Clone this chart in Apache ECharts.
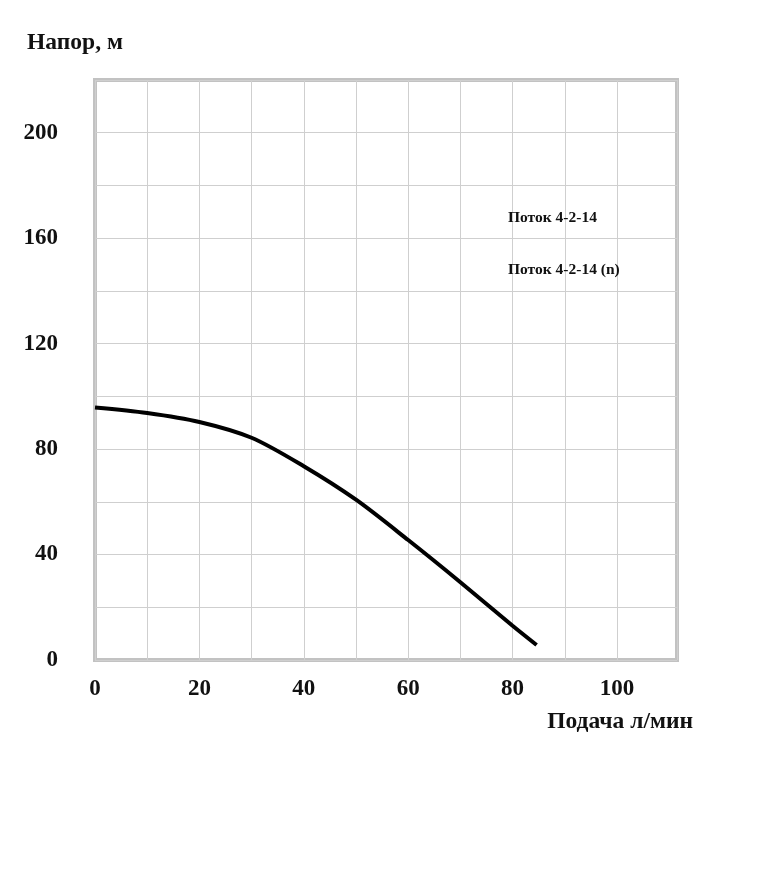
<!DOCTYPE html>
<html>
<head>
<meta charset="utf-8">
<script src="https://cdn.jsdelivr.net/npm/echarts@6/dist/echarts.min.js"></script>
<style>
html,body{margin:0;padding:0;background:#fff;}
#chart{width:767px;height:872px;}
</style>
</head>
<body>
<div id="chart"></div>
<script>
// Data
const flow = [0, 10, 20, 30, 40, 50, 60, 70, 80, 84.6];               // Подача, л/мин
const head = [95.8, 93.7, 90.3, 84.3, 73.5, 60.8, 45.5, 29.5, 13.0, 5.7]; // Напор, м
const seriesNames = ['Поток 4-2-14', 'Поток 4-2-14 (n)'];
const xTickLabels = [0, 20, 40, 60, 80, 100];
const yTickLabels = [0, 40, 80, 120, 160, 200];
const xName = 'Подача л/мин';
const yName = 'Напор, м';

const font = "'Liberation Serif','Times New Roman',serif";
const xSplitColors = [];
for (let i = 0; i < 13; i++) xSplitColors.push(i === 11 ? 'rgba(0,0,0,0)' : '#cfcfcf');

const chart = echarts.init(document.getElementById('chart'), null, {renderer: 'canvas'});
chart.setOption({
  backgroundColor: '#ffffff',
  animation: false,
  grid: {
    left: 95, right: 90, top: 80, bottom: 212,
    show: true, borderColor: '#c2c2c2', borderWidth: 4, backgroundColor: 'transparent'
  },
  legend: {
    orient: 'vertical', left: 498, top: 205, itemGap: 36,
    itemWidth: 0, itemHeight: 14,
    icon: 'none',
    data: seriesNames.map(n => ({name: n, icon: 'none'})),
    textStyle: {fontFamily: font, fontWeight: 'bold', fontSize: 15.5, color: '#111'},
    selectedMode: false
  },
  xAxis: {
    type: 'value', min: 0, max: 111.5, interval: 10,
    name: xName, nameLocation: 'end', nameGap: 16,
    nameTextStyle: {fontFamily: font, fontWeight: 'bold', fontSize: 23.5, color: '#111',
      align: 'right', verticalAlign: 'top', padding: [50, 0, 0, 0]},
    axisLine: {show: false}, axisTick: {show: false},
    axisLabel: {
      margin: 18, fontFamily: font, fontWeight: 'bold', fontSize: 23, color: '#111',
      showMaxLabel: true,
      formatter: v => xTickLabels.indexOf(v) >= 0 ? String(v) : ''
    },
    splitLine: {show: true, lineStyle: {color: xSplitColors, width: 1}}
  },
  yAxis: {
    type: 'value', min: 0, max: 220, interval: 20,
    name: yName, nameLocation: 'end', nameGap: 25,
    nameTextStyle: {fontFamily: font, fontWeight: 'bold', fontSize: 23.5, color: '#111',
      align: 'center', padding: [0, 40, 0, 0]},
    axisLine: {show: false}, axisTick: {show: false},
    axisLabel: {
      margin: 37, fontFamily: font, fontWeight: 'bold', fontSize: 23, color: '#111',
      formatter: v => yTickLabels.indexOf(v) >= 0 ? String(v) : ''
    },
    splitLine: {show: true, lineStyle: {color: '#cfcfcf', width: 1}}
  },
  series: [
    {
      name: seriesNames[0], type: 'line', smooth: 0.3,
      showSymbol: false, symbol: 'none',
      data: flow.map((x, i) => [x, head[i]]),
      lineStyle: {color: '#000', width: 4}, itemStyle: {color: '#000'}
    },
    {
      name: seriesNames[1], type: 'line', showSymbol: false, symbol: 'none',
      data: [], lineStyle: {color: '#000', width: 2}, itemStyle: {color: '#000'}
    }
  ]
});
</script>
</body>
</html>
